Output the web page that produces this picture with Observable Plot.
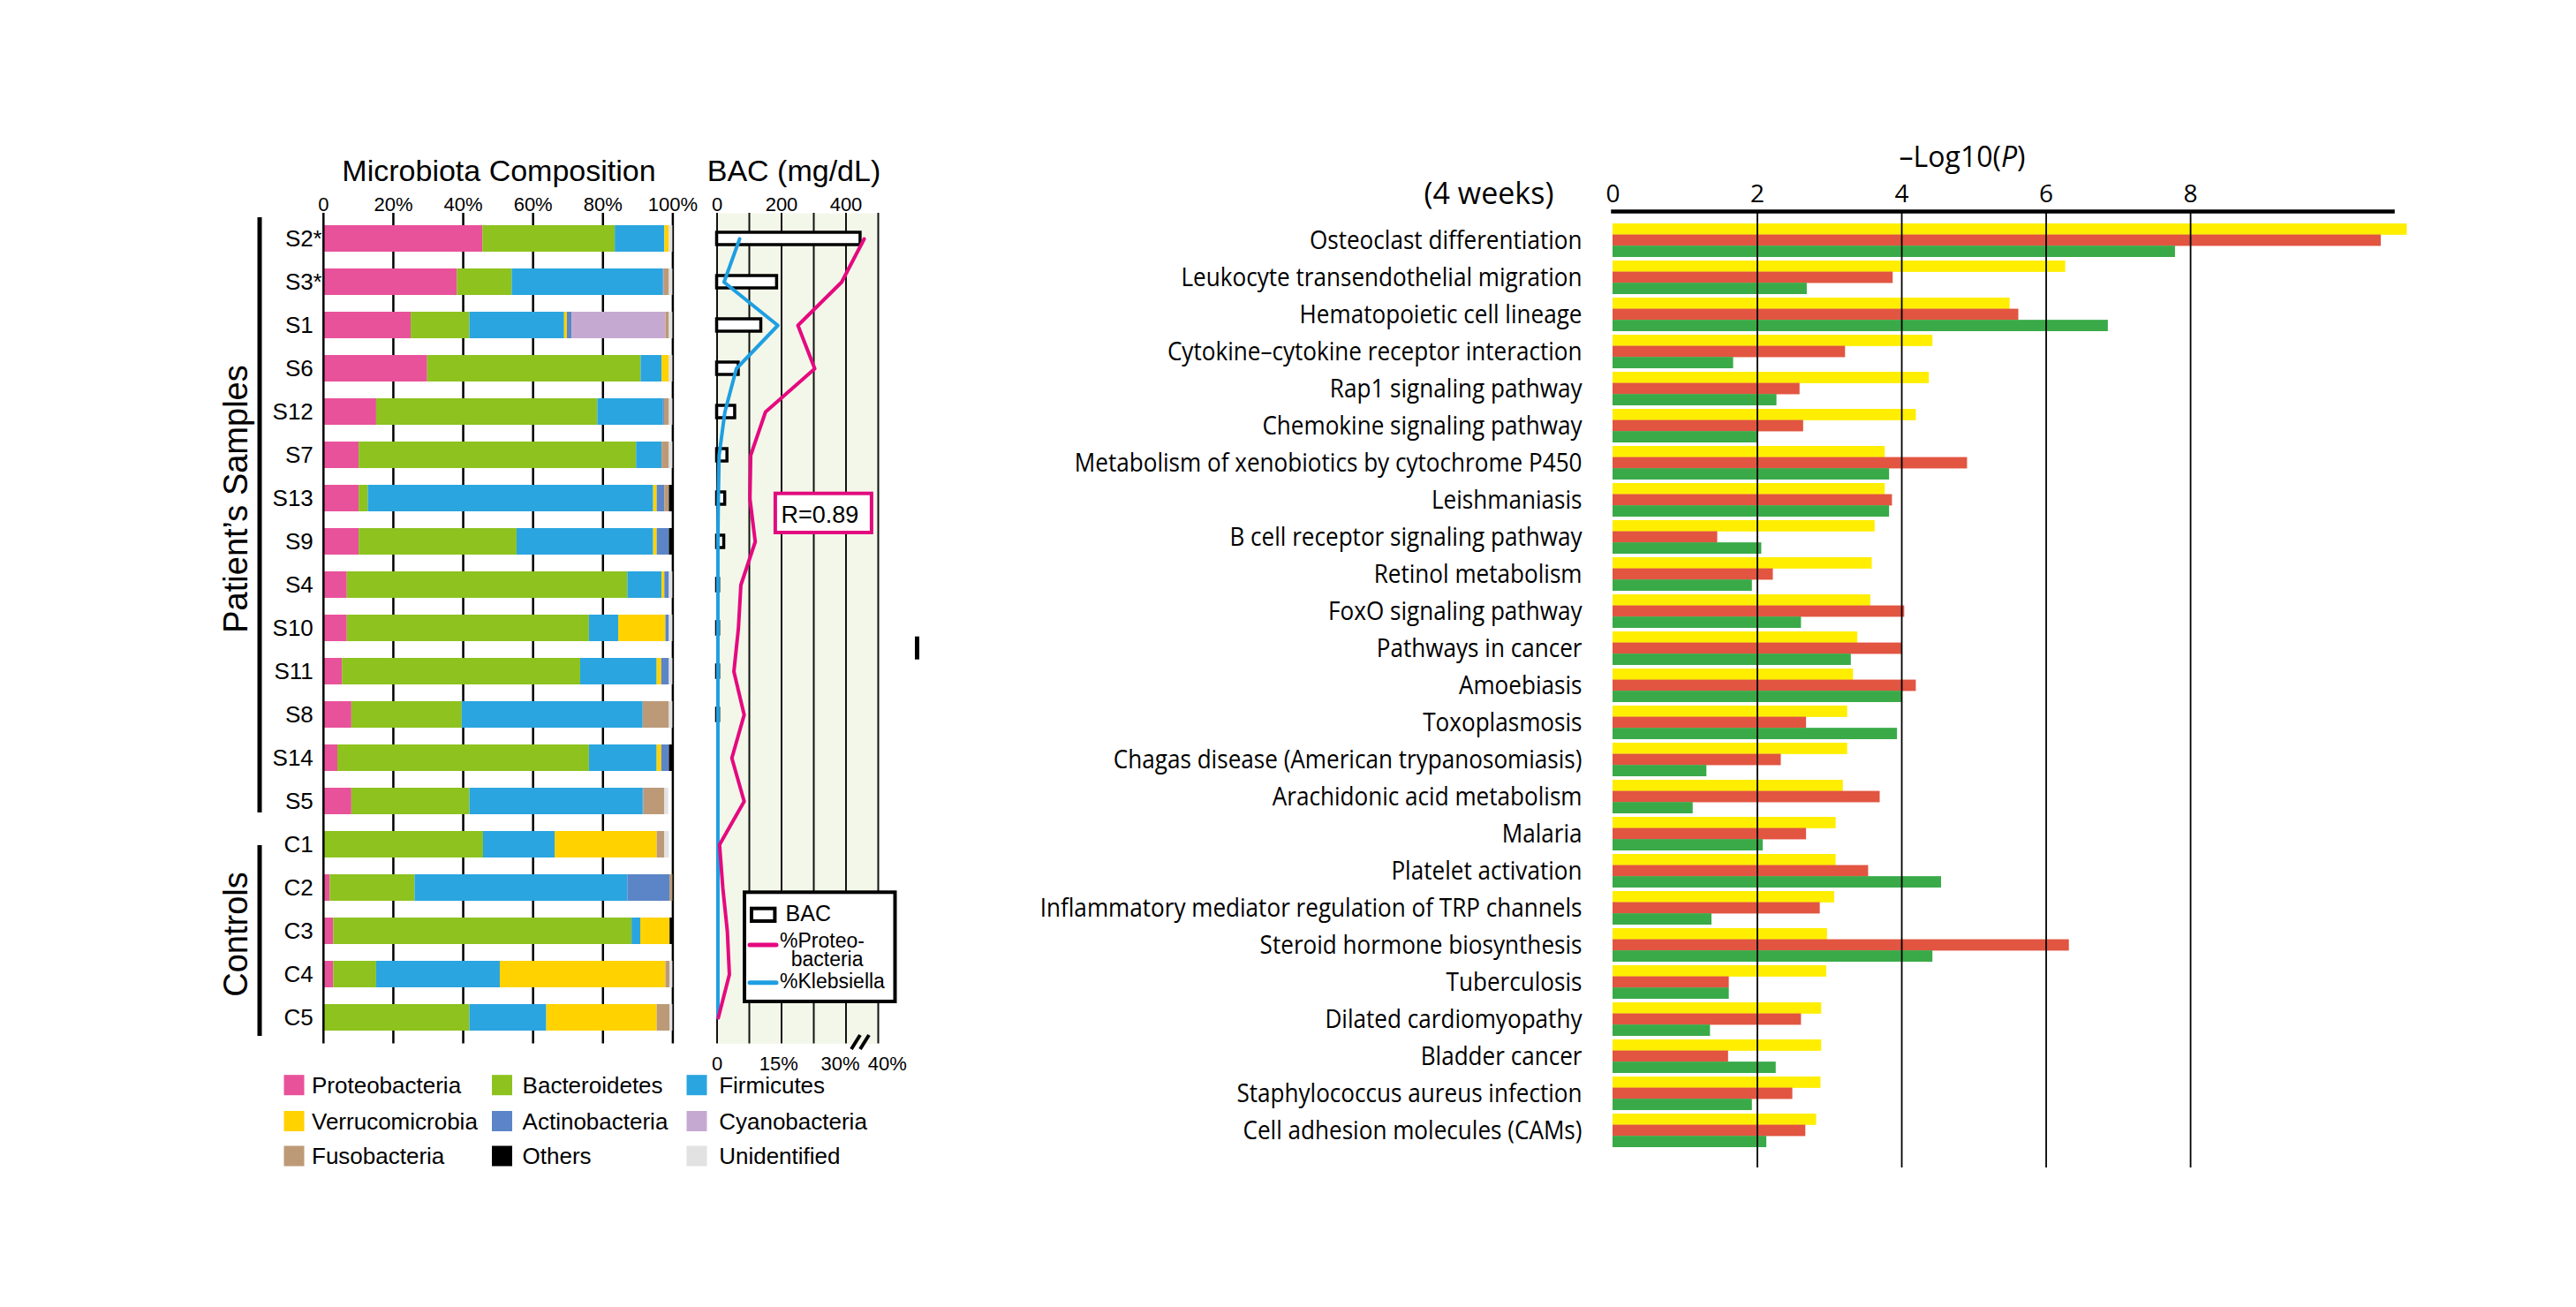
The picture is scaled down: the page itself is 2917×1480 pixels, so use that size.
<!DOCTYPE html>
<html>
<head>
<meta charset="utf-8">
<script src="https://cdn.jsdelivr.net/npm/d3@7"></script>
<script src="https://cdn.jsdelivr.net/npm/@observablehq/plot@0.6"></script>
<style>
  html, body { margin: 0; padding: 0; background: #fff; }
  #page { position: relative; width: 2917px; height: 1480px; overflow: hidden; background: #fff; }
  #page > svg { position: absolute; left: 0; top: 0; }
</style>
</head>
<body>
<div id="page"></div>
<script>
// ---------------- DATA ----------------
const samples = ["S2*","S3*","S1","S6","S12","S7","S13","S9","S4","S10","S11","S8","S14","S5","C1","C2","C3","C4","C5"];
const phyla = ["Proteobacteria","Bacteroidetes","Firmicutes","Verrucomicrobia","Actinobacteria","Cyanobacteria","Fusobacteria","Others","Unidentified"];
const phylumColors = ["#e8529a","#8dc21f","#2aa5e0","#ffd200","#5b85c7","#c6a9d1","#bc9a78","#000000","#e2e2e2"];

const proteobacteria  = [45.6,38.3,25.1,29.8,15.2,10.2,10.2,10.2,6.8,6.8,5.4,8.1,4.1,8.1,0.3,1.9,2.9,2.9,0.3];
const bacteroidetes   = [37.9,15.7,16.8,61.1,63.3,79.4,2.6,45.2,80.3,69.3,68.2,31.6,72.0,33.8,45.5,24.3,85.4,12.3,41.6];
const firmicutes      = [14.2,43.2,27.1,6.0,18.8,7.3,81.7,39.1,9.8,8.4,21.9,51.8,19.4,49.6,20.5,60.9,2.5,35.4,22.0];
const verrucomicrobia = [1.3,0,0.8,2.1,0,0,1.0,1.0,0.8,13.5,1.3,0,1.3,0,29.2,0,8.4,47.4,31.6];
const actinobacteria  = [0,0.3,1.4,0,0.3,0,2.2,3.5,1.3,1.0,2.2,0,2.2,0.2,0,12.1,0,0,0];
const cyanobacteria   = [0,0,26.8,0,0,0,0,0,0,0,0,0,0,0,0,0,0,0,0];
const fusobacteria    = [0,1.5,1.0,0,1.4,2.1,1.3,0,0,0,0,7.5,0,6.0,2.2,0.8,0,1.2,3.7];
const others          = [0,0,0,0,0,0,1.0,1.0,0,0,0,0,1.0,0,0,0,0.8,0,0];
const unidentified    = [1.0,1.0,1.0,1.0,1.0,1.0,0,0,1.0,1.0,1.0,1.0,0,1.1,1.3,0,0,0.8,0.8];
const compositionTicks = [0,20,40,60,80,100];

const bacMgdL            = [445,186,137,67,56,32,25,22,6,6,6,6,0,0,0,0,0,0,0];
const proteoLinePct      = [35.1,30.3,19.7,23.8,11.8,8.2,8.0,9.3,5.8,5.2,4.1,6.6,3.6,6.6,0.6,1.4,2.5,3.0,0.3];
const klebsiellaLinePct  = [5.5,1.7,14.8,4.7,1.9,0.5,0.3,0.2,0.2,0.2,0.2,0.2,0.2,0.2,0.2,0.2,0.2,0.2,0.2];
const bacTicks = [0,200,400];
const bacGrid  = [0,100,200,300,400,500];
const pctTicks = [0,15,30,40];
// broken secondary (percent) axis: 0–30% then 30–40%
const pctScale = d3.scaleLinear().domain([0,30,40]).range([0,382,528]);

const pathways = [
  "Osteoclast differentiation",
  "Leukocyte transendothelial migration",
  "Hematopoietic cell lineage",
  "Cytokine–cytokine receptor interaction",
  "Rap1 signaling pathway",
  "Chemokine signaling pathway",
  "Metabolism of xenobiotics by cytochrome P450",
  "Leishmaniasis",
  "B cell receptor signaling pathway",
  "Retinol metabolism",
  "FoxO signaling pathway",
  "Pathways in cancer",
  "Amoebiasis",
  "Toxoplasmosis",
  "Chagas disease (American trypanosomiasis)",
  "Arachidonic acid metabolism",
  "Malaria",
  "Platelet activation",
  "Inflammatory mediator regulation of TRP channels",
  "Steroid hormone biosynthesis",
  "Tuberculosis",
  "Dilated cardiomyopathy",
  "Bladder cancer",
  "Staphylococcus aureus infection",
  "Cell adhesion molecules (CAMs)"
];
const yellowSeries = [11.0,6.27,5.50,4.43,4.38,4.20,3.77,3.77,3.63,3.59,3.57,3.39,3.33,3.25,3.25,3.19,3.09,3.09,3.07,2.97,2.96,2.89,2.89,2.88,2.82];
const redSeries    = [10.64,3.88,5.62,3.22,2.59,2.64,4.91,3.87,1.45,2.22,4.04,4.01,4.20,2.68,2.33,3.70,2.68,3.54,2.87,6.32,1.61,2.61,1.60,2.49,2.67];
const greenSeries  = [7.79,2.69,6.86,1.67,2.27,2.00,3.83,3.83,2.06,1.93,2.61,3.30,4.01,3.94,1.30,1.11,2.08,4.55,1.37,4.43,1.61,1.35,2.26,1.93,2.13];
const logTicks = [0,2,4,6,8];

// ---------------- BUILD ----------------
const W = 2917, H = 1480;
const page = document.getElementById("page");
const ARIAL = "'Liberation Sans', Arial, Helvetica, sans-serif";
const OPEN = "'Open Sans', 'Noto Sans', sans-serif";

const composition = [proteobacteria, bacteroidetes, firmicutes, verrucomicrobia, actinobacteria, cyanobacteria, fusobacteria, others, unidentified];
const compRows = [];
phyla.forEach((p, j) => samples.forEach((s, i) => compRows.push({sample: s, phylum: p, value: composition[j][i]})));

const compPlot = Plot.plot({
  width: W, height: H,
  marginLeft: 365.8, marginRight: W - 761.4, marginTop: 241, marginBottom: H - 1181.5,
  style: {fontFamily: ARIAL, fontSize: "26px", background: "transparent", color: "#000", overflow: "visible"},
  x: {domain: [0, 100]},
  y: {domain: samples, paddingInner: 0.38, paddingOuter: 0.19},
  color: {domain: phyla, range: phylumColors},
  marks: [
    Plot.ruleX(compositionTicks.slice(1), {stroke: "#000", strokeWidth: 2.5}),
    Plot.barX(compRows, {x: "value", y: "sample", fill: "phylum", order: phyla}),
    Plot.ruleX([0], {stroke: "#000", strokeWidth: 2.5}),
    Plot.axisX({anchor: "top", ticks: compositionTicks, tickFormat: d => d === 0 ? "0" : d + "%", tickSize: 0, tickPadding: 2.7, fontSize: 22, label: null}),
    Plot.axisY({anchor: "left", tickSize: 0, tickPadding: 11.5, tickFormat: s => s.replace("*", ""), fontSize: 26, label: null}),
    Plot.text(samples.filter(s => s.endsWith("*")), {y: d => d, frameAnchor: "left", dx: -11.8, text: () => "*", textAnchor: "start", fontSize: 26})
  ]
});
page.appendChild(compPlot);

const bacRows = samples.map((s, i) => ({sample: s, bac: bacMgdL[i], proteo: proteoLinePct[i], kleb: klebsiellaLinePct[i]}));
const bacPlot = Plot.plot({
  width: W, height: H,
  marginLeft: 811.5, marginRight: W - 994, marginTop: 241, marginBottom: H - 1181.5,
  style: {fontFamily: ARIAL, fontSize: "22px", background: "transparent", color: "#000", overflow: "visible"},
  x: {domain: [0, 500]},
  y: {domain: samples, paddingInner: 0.72, paddingOuter: 0.36, axis: null},
  marks: [
    Plot.frame({fill: "#f3f7e9", stroke: "none"}),
    Plot.ruleX(bacGrid, {stroke: "#111", strokeWidth: 2}),
    Plot.barX(bacRows.filter(d => d.bac > 0), {x: "bac", y: "sample", fill: "#fff", stroke: "#000", strokeWidth: 3.5}),
    Plot.line(bacRows, {x: d => pctScale(d.kleb), y: "sample", stroke: "#1e9fe2", strokeWidth: 4}),
    Plot.line(bacRows, {x: d => pctScale(d.proteo), y: "sample", stroke: "#e5097f", strokeWidth: 4}),
    Plot.axisX({anchor: "top", ticks: bacTicks, tickSize: 0, tickPadding: 2.7, fontSize: 22, label: null}),
    Plot.text(pctTicks, {x: d => pctScale(d), frameAnchor: "bottom", text: d => d === 0 ? "0" : d + "%", lineAnchor: "top", dy: 14, fontSize: 22})
  ]
});
page.appendChild(bacPlot);

const pathRows = pathways.map((p, i) => ({pathway: p, yellow: yellowSeries[i], red: redSeries[i], green: greenSeries[i]}));
const sub = 12.57; // one third of the pathway band, in pixels
const rightPlot = Plot.plot({
  width: W, height: H,
  marginLeft: 1826, marginRight: W - 2709, marginTop: 239, marginBottom: H - 1322,
  style: {fontFamily: OPEN, fontSize: "26px", background: "transparent", color: "#000", overflow: "visible"},
  x: {domain: [0, 10.8]},
  y: {domain: pathways, range: [248.5, 1302.8], paddingInner: 0.106, paddingOuter: 0.053},
  marks: [
    Plot.barX(pathRows, {x: "yellow", y: "pathway", fill: "#ffee00", insetBottom: 2 * sub}),
    Plot.barX(pathRows, {x: "red", y: "pathway", fill: "#e15541", insetTop: sub, insetBottom: sub}),
    Plot.barX(pathRows, {x: "green", y: "pathway", fill: "#3aaa48", insetTop: 2 * sub}),
    Plot.ruleX(logTicks.slice(1), {stroke: "#000", strokeWidth: 1.8}),
    Plot.frame({anchor: "top", stroke: "#000", strokeWidth: 4.5}),
    Plot.axisX({anchor: "top", ticks: logTicks, tickSize: 0, tickPadding: 10.5, fontSize: 28, label: null}),
    Plot.axisY({anchor: "left", tickSize: 0, tickPadding: 35, fontSize: 29, label: null})
  ]
});
page.appendChild(rightPlot);
// the original labels are set in a narrow humanist face: condense the glyphs slightly
rightPlot.querySelectorAll("text").forEach(t => {
  if (pathways.includes(t.textContent)) {
    const w = t.getComputedTextLength();
    t.setAttribute("textLength", (w * 0.9).toFixed(1));
    t.setAttribute("lengthAdjust", "spacingAndGlyphs");
  }
});

// ---------------- ANNOTATIONS / LEGENDS ----------------
const a = [];
a.push(`<g font-family="${ARIAL}" fill="#000">`);
a.push(`<text x="565" y="205" text-anchor="middle" font-size="34">Microbiota Composition</text>`);
a.push(`<text x="899" y="205" text-anchor="middle" font-size="34">BAC (mg/dL)</text>`);
a.push(`<text transform="translate(280,565) rotate(-90)" text-anchor="middle" font-size="38">Patient’s Samples</text>`);
a.push(`<text transform="translate(280,1058) rotate(-90)" text-anchor="middle" font-size="38">Controls</text>`);
a.push(`<line x1="294" y1="246" x2="294" y2="920" stroke="#000" stroke-width="5"/>`);
a.push(`<line x1="294" y1="957" x2="294" y2="1173" stroke="#000" stroke-width="5"/>`);
// R box
a.push(`<rect x="877.9" y="558.7" width="109" height="44.3" fill="#fff" stroke="#e20a7e" stroke-width="4"/>`);
a.push(`<text x="884.5" y="591.7" font-size="27">R=0.89</text>`);
// axis break
a.push(`<line x1="964" y1="1188" x2="974" y2="1172" stroke="#000" stroke-width="4"/>`);
a.push(`<line x1="974" y1="1188" x2="984" y2="1172" stroke="#000" stroke-width="4"/>`);
// BAC legend box
a.push(`<rect x="843" y="1010.3" width="170.5" height="123.7" fill="#fff" stroke="#000" stroke-width="4"/>`);
a.push(`<rect x="851" y="1028.7" width="26.4" height="14.3" fill="#fff" stroke="#000" stroke-width="4"/>`);
a.push(`<text x="889.6" y="1043.3" font-size="25">BAC</text>`);
a.push(`<line x1="849" y1="1070" x2="879" y2="1070" stroke="#e5097f" stroke-width="5" stroke-linecap="round"/>`);
a.push(`<text x="883" y="1072.7" font-size="23">%Proteo-</text>`);
a.push(`<text x="895.7" y="1094.3" font-size="23">bacteria</text>`);
a.push(`<line x1="849" y1="1112.7" x2="879" y2="1112.7" stroke="#1e9fe2" stroke-width="5" stroke-linecap="round"/>`);
a.push(`<text x="883" y="1119.3" font-size="23">%Klebsiella</text>`);
// phylum legend
const swX = [321.5, 557, 777.5], txX = [353, 591.6, 814.2], rowC = [1228.7, 1269.5, 1309];
phyla.forEach((p, i) => {
  const c = i % 3, r = Math.floor(i / 3);
  a.push(`<rect x="${swX[c]}" y="${rowC[r] - 11.5}" width="23" height="23" fill="${phylumColors[i]}"/>`);
  a.push(`<text x="${txX[c]}" y="${rowC[r] + 9.3}" font-size="26">${p}</text>`);
});
// stray mark in original figure
a.push(`<rect x="1036" y="720.7" width="5" height="26" fill="#000"/>`);
a.push(`</g>`);
a.push(`<g font-family="${OPEN}" fill="#000">`);
a.push(`<text x="1686" y="231" text-anchor="middle" font-size="34">(4 weeks)</text>`);
a.push(`<text x="2222" y="189" text-anchor="middle" font-size="32">–Log10(<tspan font-style="italic">P</tspan>)</text>`);
a.push(`</g>`);
const ns = "http://www.w3.org/2000/svg";
const ann = document.createElementNS(ns, "svg");
ann.setAttribute("width", W); ann.setAttribute("height", H);
ann.setAttribute("viewBox", `0 0 ${W} ${H}`);
ann.innerHTML = a.join("");
page.appendChild(ann);
</script>
</body>
</html>
